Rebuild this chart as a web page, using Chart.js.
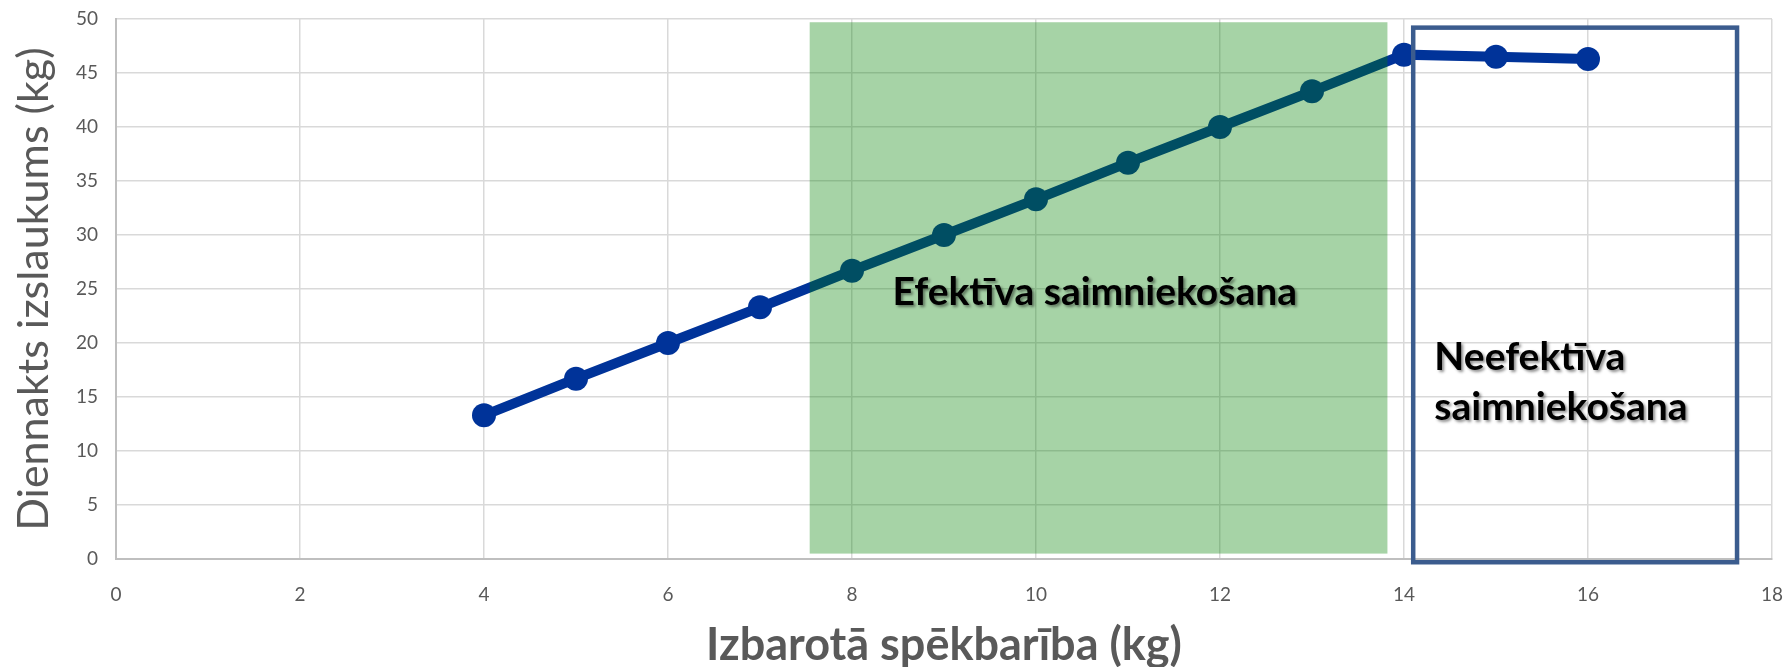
<!DOCTYPE html>
<html>
<head>
<meta charset="utf-8">
<script src="https://cdn.jsdelivr.net/npm/chart.js@4/dist/chart.umd.min.js"></script>
<style>
    html, body { margin: 0; padding: 0; background: #fff; }
    #wrap { width: 1787px; height: 667px; }
</style>
</head>
<body>
<div id="wrap"><canvas id="myChart" width="1787" height="667"></canvas></div>
<script>
// data
const feedKg = [4, 5, 6, 7, 8, 9, 10, 11, 12, 13, 14, 15, 16];
const milkKg = [13.3, 16.7, 20, 23.3, 26.7, 30, 33.3, 36.7, 40, 43.3, 46.7, 46.5, 46.3];
const xTitle = 'Izbarotā spēkbarība (kg)';
const yTitle = 'Diennakts izslaukums (kg)';
const effLabel = ['Efektīva saimniekošana'];
const ineffLabel = ['Neefektīva', 'saimniekošana'];

// zones in data units
const effZone = { x0: 7.54, x1: 13.82, y0: 0.5, y1: 49.7 };
const ineffZone = { x0: 14.1, x1: 17.62, y0: -0.3, y1: 49.2 };

const font = 'Lato, "Open Sans", sans-serif';

// draw the two zones and their labels
const zonePlugin = {
    id: 'zones',
    afterDatasetsDraw(chart) {
        const ctx = chart.ctx;
        const x = chart.scales.x, y = chart.scales.y;

        // green zone on top of the line
        ctx.save();
        ctx.fillStyle = 'rgba(0, 128, 0, 0.35)';
        const gx = x.getPixelForValue(effZone.x0), gx2 = x.getPixelForValue(effZone.x1);
        const gy = y.getPixelForValue(effZone.y1), gy2 = y.getPixelForValue(effZone.y0);
        ctx.fillRect(gx, gy, gx2 - gx, gy2 - gy);

        // blue frame
        ctx.strokeStyle = '#3b5c8e';
        ctx.lineWidth = 4.5;
        const bx = x.getPixelForValue(ineffZone.x0), bx2 = x.getPixelForValue(ineffZone.x1);
        const by = y.getPixelForValue(ineffZone.y1), by2 = y.getPixelForValue(ineffZone.y0);
        ctx.strokeRect(bx, by, bx2 - bx, by2 - by);

        // labels
        ctx.fillStyle = '#000';
        ctx.font = 'bold 39px ' + font;
        ctx.textBaseline = 'middle';
        ctx.textAlign = 'left';
        ctx.shadowColor = 'rgba(0,0,0,0.45)';
        ctx.shadowOffsetX = 2;
        ctx.shadowOffsetY = 2;
        ctx.shadowBlur = 3;
        ctx.fillText(effLabel[0], x.getPixelForValue(8.44), y.getPixelForValue(24.7));
        ctx.fillText(ineffLabel[0], x.getPixelForValue(14.33), y.getPixelForValue(18.7));
        ctx.fillText(ineffLabel[1], x.getPixelForValue(14.33), y.getPixelForValue(14.05));
        ctx.restore();
    }
};

const ctx = document.getElementById('myChart');
const myChart = new Chart(ctx, {
    type: 'line',
    data: {
        datasets: [{
            label: 'Izslaukums',
            data: feedKg.map((v, i) => ({ x: v, y: milkKg[i] })),
            borderColor: '#003399',
            backgroundColor: '#003399',
            borderWidth: 10,
            pointRadius: 12,
            pointHoverRadius: 12,
            pointBorderWidth: 0,
            tension: 0
        }]
    },
    options: {
        responsive: false,
        animation: false,
        layout: { padding: { top: 19, right: 15, left: 0, bottom: 0 } },
        plugins: {
            legend: { display: false },
            tooltip: { enabled: false }
        },
        scales: {
            x: {
                type: 'linear',
                min: 0,
                max: 18,
                afterFit(scale) { scale.height = 108; },
                ticks: {
                    stepSize: 2,
                    color: '#595959',
                    padding: 0,
                    font: { family: font, size: 19 }
                },
                grid: { color: '#d9d9d9', lineWidth: 1.5, drawTicks: true, tickLength: 24, tickColor: 'rgba(0,0,0,0)' },
                border: { color: '#bfbfbf', width: 2 },
                title: {
                    display: true,
                    text: xTitle,
                    color: '#595959',
                    font: { family: font, size: 45, weight: 'bold' },
                    padding: { top: 0, bottom: -5 }
                }
            },
            y: {
                min: 0,
                max: 50,
                afterFit(scale) { scale.width = 116; },
                ticks: {
                    stepSize: 5,
                    color: '#595959',
                    padding: 0,
                    font: { family: font, size: 19 }
                },
                grid: { color: '#d9d9d9', lineWidth: 1.5, drawTicks: true, tickLength: 18, tickColor: 'rgba(0,0,0,0)' },
                border: { color: '#bfbfbf', width: 2 },
                title: {
                    display: true,
                    text: yTitle,
                    color: '#595959',
                    font: { family: font, size: 43 },
                    padding: { top: 8, bottom: 0 }
                }
            }
        }
    },
    plugins: [zonePlugin]
});
</script>
</body>
</html>
